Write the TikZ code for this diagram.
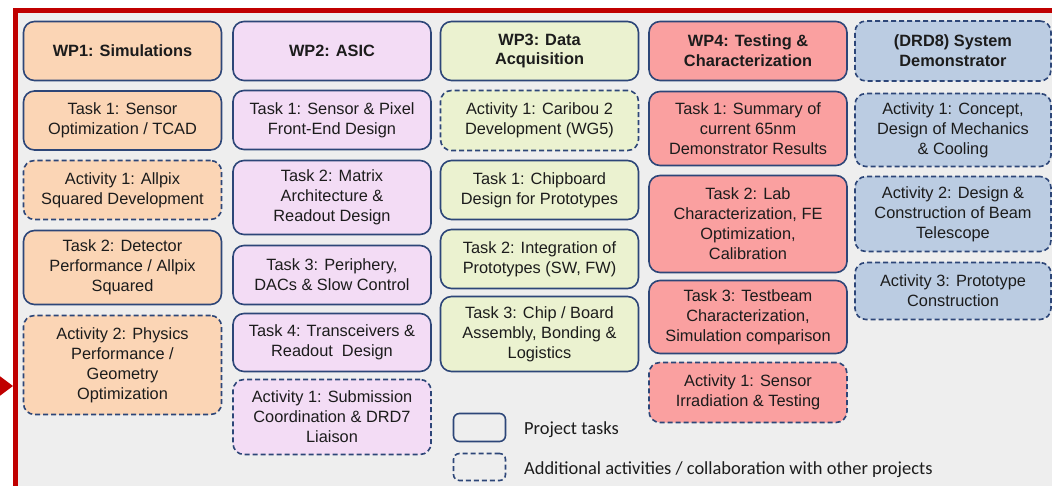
\documentclass[tikz,border=0pt]{standalone}
\usepackage{fontspec}
\setmainfont{Liberation Sans}
\newfontfamily\legendfont{Carlito}
\usetikzlibrary{arrows.meta}

\definecolor{framered}{RGB}{192,0,0}
\definecolor{panelgray}{RGB}{238,238,238}
\definecolor{boxline}{RGB}{45,70,120}
\definecolor{simfill}{RGB}{251,213,181}
\definecolor{asicfill}{RGB}{243,220,245}
\definecolor{daqfill}{RGB}{235,242,208}
\definecolor{testfill}{RGB}{250,160,160}
\definecolor{demofill}{RGB}{187,204,226}
\definecolor{textgray}{RGB}{28,28,28}

\tikzset{
  wpbox/.style={draw=boxline, line width=1.6bp, rounded corners=11bp,
                minimum width=198bp, align=center, inner sep=2bp, text=textgray,
                font=\fontsize{16.4}{20}\selectfont},
  taskbox/.style={wpbox},
  actbox/.style={wpbox, dash pattern=on 5bp off 3bp},
  headbox/.style={font=\fontsize{16.4}{20}\selectfont\bfseries},
  legendtext/.style={anchor=base west, inner sep=0pt, text=textgray,
                     font=\legendfont\fontsize{18.5}{22}\selectfont}
}

\begin{document}
\begin{tikzpicture}[x=1bp, y=-1bp]
  \useasboundingbox (0,0) rectangle (1052,486);

  % Grey panel with the red frame on top and left
  \fill[white] (0,0) rectangle (1052,486);
  \fill[panelgray] (15,10.5) rectangle (1060,495);
  \draw[framered, line width=5bp] (15,495) -- (15,10.5) -- (1060,10.5);

  % Incoming arrow on the left edge
  \coordinate (inarrow) at (13,386);
  \draw[framered, line width=2bp, -{Triangle[length=13bp,width=19bp]}] (-30,386) -- (inarrow);

  % WP1
  \node[taskbox, headbox, fill=simfill, minimum height=59bp] (simhead) at (122.5,51) {WP1: Simulations};
  \node[taskbox, fill=simfill, minimum height=59bp] (simtaskone) at (122.5,120.5) {Task 1: Sensor\\Optimization / TCAD};
  \node[actbox, fill=simfill, minimum height=59bp] (simactone) at (122.5,190) {Activity 1: Allpix\\Squared Development};
  \node[taskbox, fill=simfill, minimum height=74bp] (simtasktwo) at (122.5,267.5) {Task 2: Detector\\Performance / Allpix\\Squared};
  \node[actbox, fill=simfill, minimum height=99bp] (simacttwo) at (122.5,365) {Activity 2: Physics\\Performance /\\Geometry\\Optimization};

  % WP2
  \node[taskbox, headbox, fill=asicfill, minimum height=59bp] (asichead) at (332,51) {WP2: ASIC};
  \node[taskbox, fill=asicfill, minimum height=59bp] (asictaskone) at (332,120) {Task 1: Sensor \& Pixel\\Front-End Design};
  \node[taskbox, fill=asicfill, minimum height=74bp] (asictasktwo) at (332,197.5) {Task 2: Matrix\\Architecture \&\\Readout Design};
  \node[taskbox, fill=asicfill, minimum height=59bp] (asictaskthree) at (332,275) {Task 3: Periphery,\\DACs \& Slow Control};
  \node[taskbox, fill=asicfill, minimum height=58bp] (asictaskfour) at (332,342.5) {Task 4: Transceivers \&\\Readout\ \ Design};
  \node[actbox, fill=asicfill, minimum height=75bp] (asicactone) at (332,417) {Activity 1: Submission\\Coordination \& DRD7\\Liaison};

  % WP3
  \node[taskbox, headbox, fill=daqfill, minimum height=59bp] (daqhead) at (539.5,51) {WP3: Data\\Acquisition};
  \node[actbox, fill=daqfill, minimum height=60bp] (daqactone) at (539.5,120.5) {Activity 1: Caribou 2\\Development (WG5)};
  \node[taskbox, fill=daqfill, minimum height=59bp] (daqtaskone) at (539.5,190) {Task 1: Chipboard\\Design for Prototypes};
  \node[taskbox, fill=daqfill, minimum height=59bp] (daqtasktwo) at (539.5,259) {Task 2: Integration of\\Prototypes (SW, FW)};
  \node[taskbox, fill=daqfill, minimum height=75bp] (daqtaskthree) at (539.5,334) {Task 3: Chip / Board\\Assembly, Bonding \&\\Logistics};

  % WP4
  \node[taskbox, headbox, fill=testfill, minimum height=59bp] (testhead) at (748,51) {WP4: Testing \&\\Characterization};
  \node[taskbox, fill=testfill, minimum height=74bp] (testtaskone) at (748,128.5) {Task 1: Summary of\\current 65nm\\Demonstrator Results};
  \node[taskbox, fill=testfill, minimum height=97bp] (testtasktwo) at (748,224) {Task 2: Lab\\Characterization, FE\\Optimization,\\Calibration};
  \node[taskbox, fill=testfill, minimum height=73bp] (testtaskthree) at (748,317) {Task 3: Testbeam\\Characterization,\\Simulation comparison};
  \node[actbox, fill=testfill, minimum height=60bp] (testactone) at (748,392.5) {Activity 1: Sensor\\Irradiation \& Testing};

  % DRD8 system demonstrator
  \node[actbox, headbox, fill=demofill, minimum width=196bp, minimum height=60bp] (demohead) at (953,51) {(DRD8) System\\Demonstrator};
  \node[actbox, fill=demofill, minimum width=196bp, minimum height=73bp] (demoactone) at (953,130) {Activity 1: Concept,\\Design of Mechanics\\\& Cooling};
  \node[actbox, fill=demofill, minimum width=196bp, minimum height=75bp] (demoacttwo) at (953,214) {Activity 2: Design \&\\Construction of Beam\\Telescope};
  \node[actbox, fill=demofill, minimum width=196bp, minimum height=57bp] (demoactthree) at (953,291) {Activity 3: Prototype\\Construction};

  % Legend
  \node[taskbox, minimum width=52bp, minimum height=28bp, rounded corners=6bp] (legtask) at (479.5,427.5) {};
  \node[actbox, minimum width=52bp, minimum height=27bp, rounded corners=6bp] (legact) at (479.5,467) {};
  \node[legendtext] (legtasktext) at (524,434) {Project tasks};
  \node[legendtext] (legacttext) at (524,474) {Additional activities / collaboration with other projects};
\end{tikzpicture}
\end{document}
